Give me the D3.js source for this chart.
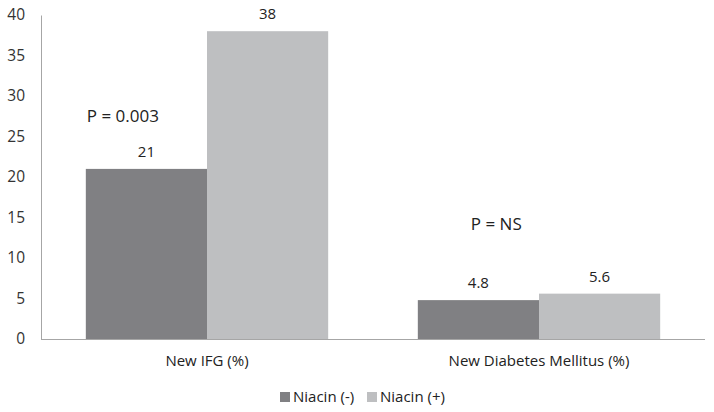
<!DOCTYPE html>
<html>
<head>
<meta charset="UTF-8">
<script src="https://d3js.org/d3.v7.min.js"></script>
<style>
  body { margin: 0; background: #fff; }
  svg { font-family: "Open Sans", "Noto Sans", sans-serif; }
</style>
</head>
<body>
<svg></svg>
<script>
  let width = 714, height = 412;

  // data
  const categories = ["New IFG (%)", "New Diabetes Mellitus (%)"];
  const seriesNames = ["Niacin (-)", "Niacin (+)"];
  const niacinMinus = [21, 4.8];
  const niacinPlus = [38, 5.6];
  const yTicks = [0, 5, 10, 15, 20, 25, 30, 35, 40];
  const pLabels = ["P = 0.003", "P = NS"];
  const pValues = [26.8, 13.5];   // baseline position in data units

  const colors = ["#808083", "#bebfc1"];

  let svg = d3.select("svg")
    .attr("width", width)
    .attr("height", height);

  let x = d3.scaleBand()
    .domain(categories)
    .range([41, 705])
    .paddingInner(0.27)
    .paddingOuter(0.135);

  let x1 = d3.scaleBand()
    .domain(seriesNames)
    .range([0, x.bandwidth()]);

  let y = d3.scaleLinear()
    .domain([0, 40])
    .range([339, 15]);

  // y axis
  let yAxis = svg.append("g")
    .attr("transform", "translate(41,0)")
    .call(d3.axisLeft(y).tickValues(yTicks).tickSize(0).tickPadding(16));
  yAxis.select(".domain").attr("stroke", "#a6a6a6");
  yAxis.selectAll("text").attr("font-size", 15.5).attr("fill", "#333").attr("font-family", "Open Sans");

  // bars
  let rows = categories.map((c, i) => ({ cat: c, vals: [niacinMinus[i], niacinPlus[i]] }));

  let groups = svg.append("g")
    .selectAll("g")
    .data(rows)
    .enter()
    .append("g")
    .attr("transform", d => "translate(" + x(d.cat) + ",0)");

  groups.selectAll("rect")
    .data(d => d.vals.map((v, j) => ({ name: seriesNames[j], v: v, j: j })))
    .enter()
    .append("rect")
    .attr("x", d => x1(d.name))
    .attr("y", d => y(d.v))
    .attr("width", x1.bandwidth())
    .attr("height", d => y(0) - y(d.v))
    .attr("fill", d => colors[d.j]);

  groups.selectAll("text.val")
    .data(d => d.vals.map((v, j) => ({ name: seriesNames[j], v: v })))
    .enter()
    .append("text")
    .attr("class", "val")
    .attr("x", d => x1(d.name) + x1.bandwidth() / 2)
    .attr("y", d => y(d.v) - 12)
    .attr("text-anchor", "middle")
    .attr("font-size", 15)
    .attr("fill", "#222")
    .text(d => d.v);

  // x axis baseline
  let xAxis = svg.append("g")
    .attr("transform", "translate(0," + y(0) + ")")
    .call(d3.axisBottom(x).tickSize(0).tickPadding(16));
  xAxis.select(".domain").attr("stroke", "#a6a6a6").attr("d", "M41,0.5H705");
  xAxis.selectAll("text").attr("font-size", 15).attr("fill", "#222").attr("font-family", "Open Sans");

  // p-value annotations
  svg.selectAll("text.p")
    .data(categories)
    .enter()
    .append("text")
    .attr("class", "p")
    .attr("x", (d, i) => x(d) + (i == 0 ? 1 : 53))
    .attr("y", (d, i) => y(pValues[i]))
    .attr("font-size", 17)
    .attr("fill", "#222")
    .text((d, i) => pLabels[i]);

  // legend
  let legend = svg.append("g")
    .attr("transform", "translate(280,397)");
  let items = legend.selectAll("g")
    .data(seriesNames)
    .enter()
    .append("g")
    .attr("transform", (d, i) => "translate(" + (i * 87) + ",0)");
  items.append("rect")
    .attr("x", 0).attr("y", -5)
    .attr("width", 10).attr("height", 10)
    .attr("fill", (d, i) => colors[i]);
  items.append("text")
    .attr("x", 13).attr("y", 0)
    .attr("dy", "0.35em")
    .attr("font-size", 15)
    .attr("fill", "#222")
    .text(d => d);
</script>
</body>
</html>
